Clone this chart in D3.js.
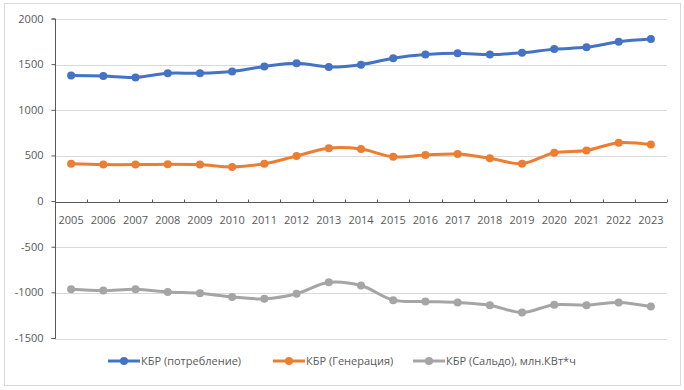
<!DOCTYPE html>
<html><head><meta charset="utf-8">
<script src="https://cdn.jsdelivr.net/npm/d3@7"></script>
<style>body{margin:0;background:#fff}svg{display:block}text{font-family:"Open Sans",sans-serif}</style>
</head><body>
<svg id="c" width="684" height="390"></svg>
<script>
const years = ["2005","2006","2007","2008","2009","2010","2011","2012","2013","2014","2015","2016","2017","2018","2019","2020","2021","2022","2023"];
const consumption = [1380,1375,1360,1405,1405,1425,1480,1515,1475,1500,1570,1610,1625,1610,1630,1670,1690,1750,1780];
const generation = [415,405,405,410,405,380,415,500,585,575,490,510,520,475,415,535,560,645,625];
const saldo = [-960,-975,-960,-990,-1005,-1045,-1065,-1010,-885,-920,-1080,-1095,-1105,-1135,-1215,-1130,-1135,-1105,-1150];
const yTicks = [-1500,-1000,-500,0,500,1000,1500,2000];
const seriesNames = ["КБР (потребление)","КБР (Генерация)","КБР (Сальдо), млн.КВт*ч"];
const colors = ["#4472C4","#ED7D31","#A5A5A5"];

const svg = d3.select("#c");
svg.append("rect").attr("x",4.5).attr("y",3.5).attr("width",676).attr("height",382)
  .attr("fill","#fff").attr("stroke","#D9D9D9");

const left = 55, right = 667;
const x = d3.scaleBand().domain(years).range([left,right]);
const y = d3.scaleLinear().domain([-1500,2000]).range([338.5,19]);

// gridlines
svg.append("g").selectAll("line").data(yTicks.filter(d=>d!==0)).join("line")
  .attr("x1",left).attr("x2",right).attr("y1",d=>Math.round(y(d))+0.5).attr("y2",d=>Math.round(y(d))+0.5)
  .attr("stroke","#D9D9D9").attr("stroke-width",1);

// y axis
const ya = svg.append("g").attr("transform",`translate(${left+0.5},0)`)
  .call(d3.axisLeft(y).tickValues(yTicks).tickSize(4).tickPadding(8).tickFormat(d=>String(d)).offset(0));
ya.select(".domain").attr("stroke","#595959");
ya.selectAll(".tick line").attr("stroke","#595959");
ya.selectAll(".tick text").attr("fill","#595959").style("font-size","11px").style("font-family","'Open Sans',sans-serif");

// x axis at zero
const y0 = Math.round(y(0))+0.5;
const xa = svg.append("g").attr("transform",`translate(0,${y0})`);
xa.append("line").attr("x1",left).attr("x2",right).attr("stroke","#595959");
const bounds = years.map(d=>x(d)).concat([right]);
xa.selectAll("line.tk").data(bounds.slice(1)).join("line").attr("class","tk")
  .attr("x1",d=>Math.round(d)+0.5).attr("x2",d=>Math.round(d)+0.5).attr("y1",0).attr("y2",-3).attr("stroke","#595959");
xa.selectAll("text").data(years).join("text")
  .attr("x",d=>x(d)+x.bandwidth()/2).attr("y",21).attr("text-anchor","middle")
  .attr("fill","#595959").style("font-size","11px").text(d=>d);

// series
const all = [consumption, generation, saldo];
const line = d3.line().x((d,i)=>x(years[i])+x.bandwidth()/2).y(d=>y(d)).curve(d3.curveCatmullRom.alpha(0.5));
all.forEach((s,k)=>{
  const g = svg.append("g");
  g.append("path").datum(s).attr("d",line).attr("fill","none").attr("stroke",colors[k])
    .attr("stroke-width",3).attr("stroke-linejoin","round").attr("stroke-linecap","round");
  g.selectAll("circle").data(s).join("circle")
    .attr("cx",(d,i)=>x(years[i])+x.bandwidth()/2).attr("cy",d=>y(d)).attr("r",4).attr("fill",colors[k]);
});

// legend
const legX = [108,273,413];
const lg = svg.append("g");
seriesNames.forEach((n,k)=>{
  const g = lg.append("g").attr("transform",`translate(${legX[k]},361)`);
  g.append("line").attr("x1",0).attr("x2",32).attr("stroke",colors[k]).attr("stroke-width",3);
  g.append("circle").attr("cx",16).attr("r",4).attr("fill",colors[k]);
  g.append("text").attr("x",33).attr("y",4).attr("fill","#595959").style("font-size","11px").text(n);
});
</script>
</body></html>
